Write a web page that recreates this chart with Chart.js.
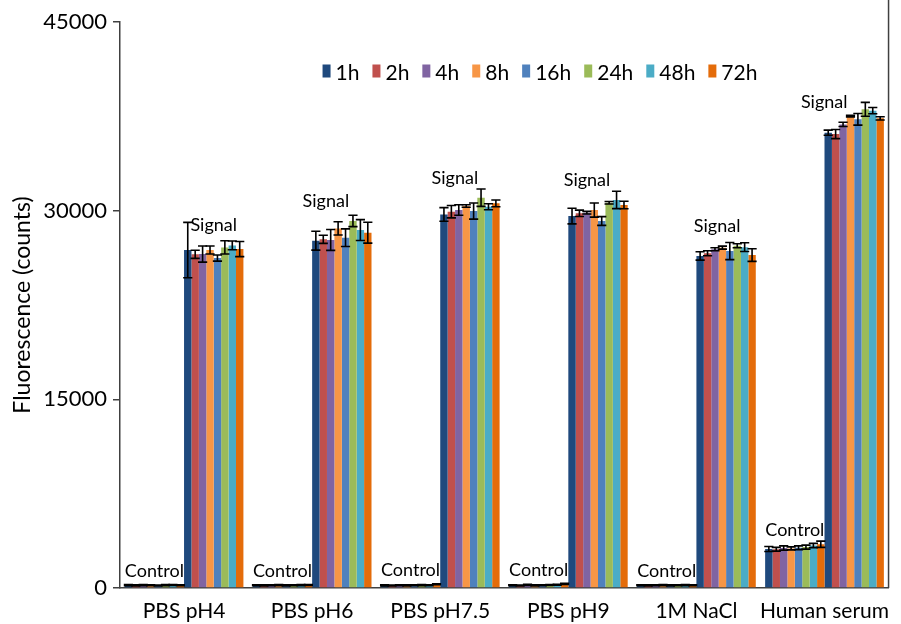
<!DOCTYPE html>
<html>
<head>
<meta charset="utf-8">
<script src="https://cdn.jsdelivr.net/npm/chart.js@4.4.0/dist/chart.umd.min.js"></script>
<style>
  html, body { margin: 0; padding: 0; background: #fff; }
  #wrap { width: 901px; height: 624px; }
</style>
</head>
<body>
<div id="wrap"><canvas id="c" width="901" height="624"></canvas></div>
<script>
// Conditions on the x axis and incubation times (one colour each)
const conditions = ['PBS pH4', 'PBS pH6', 'PBS pH7.5', 'PBS pH9', '1M NaCl', 'Human serum'];
const timepoints = ['1h', '2h', '4h', '8h', '16h', '24h', '48h', '72h'];
const yTicks = [0, 15000, 30000, 45000];

// Control (no target) fluorescence per condition, one value per time point
const ctrlPH4  = [230, 210, 230, 220, 200, 230, 240, 220];
const ctrlPH6  = [220, 210, 220, 230, 210, 220, 230, 240];
const ctrlPH75 = [210, 200, 220, 210, 220, 230, 220, 300];
const ctrlPH9  = [220, 200, 250, 210, 220, 240, 260, 330];
const ctrlNaCl = [220, 210, 220, 230, 210, 220, 230, 220];
const ctrlSerum = [3100, 3080, 3180, 3150, 3200, 3250, 3380, 3480];
const ctrlErrPH4  = [40, 40, 40, 40, 40, 40, 40, 40];
const ctrlErrPH6  = [40, 40, 40, 40, 40, 40, 40, 40];
const ctrlErrPH75 = [40, 40, 40, 40, 40, 40, 40, 40];
const ctrlErrPH9  = [40, 40, 40, 40, 40, 40, 40, 40];
const ctrlErrNaCl = [40, 40, 40, 40, 40, 40, 40, 40];
const ctrlErrSerum = [200, 150, 170, 120, 150, 160, 170, 250];

// Signal fluorescence per condition, one value per time point
const sigPH4  = [26870, 26530, 26550, 26870, 26230, 27080, 27240, 26950];
const sigPH6  = [27610, 27720, 27670, 28590, 27850, 29180, 28460, 28250];
const sigPH75 = [29700, 29920, 30050, 30370, 29970, 31030, 30310, 30580];
const sigPH9  = [29570, 29790, 29840, 30050, 29180, 30630, 30850, 30450];
const sigNaCl = [26400, 26610, 26930, 27060, 26790, 27210, 27100, 26470];
const sigSerum = [36200, 36090, 36860, 37520, 37260, 38060, 37950, 37340];
const sigErrPH4  = [2200, 320, 640, 320, 240, 530, 350, 600];
const sigErrPH6  = [750, 320, 830, 530, 700, 450, 830, 830];
const sigErrPH75 = [540, 490, 420, 100, 640, 690, 240, 270];
const sigErrPH9  = [620, 250, 100, 560, 350, 100, 690, 300];
const sigErrNaCl = [330, 200, 120, 120, 680, 160, 350, 500];
const sigErrSerum = [200, 360, 170, 60, 460, 550, 250, 130];

const colors = ['#1F497D', '#C0504D', '#8064A2', '#F79646', '#4F81BD', '#9BBB59', '#4BACC6', '#E46C0A'];

const ctrlRows = [ctrlPH4, ctrlPH6, ctrlPH75, ctrlPH9, ctrlNaCl, ctrlSerum];
const ctrlErrRows = [ctrlErrPH4, ctrlErrPH6, ctrlErrPH75, ctrlErrPH9, ctrlErrNaCl, ctrlErrSerum];
const sigRows = [sigPH4, sigPH6, sigPH75, sigPH9, sigNaCl, sigSerum];
const sigErrRows = [sigErrPH4, sigErrPH6, sigErrPH75, sigErrPH9, sigErrNaCl, sigErrSerum];

const FONT = 'Lato, "Open Sans", sans-serif';

// One dataset per (group, time point): controls first, then signals
const datasets = [];
[['Control', ctrlRows, ctrlErrRows], ['Signal', sigRows, sigErrRows]].forEach(([grp, rows, errRows]) => {
  timepoints.forEach((tp, t) => {
    datasets.push({
      label: tp,
      group: grp,
      data: rows.map(r => r[t]),
      errors: errRows.map(r => r[t]),
      backgroundColor: colors[t],
      borderWidth: 0,
      categoryPercentage: 0.927,
      barPercentage: 1.0
    });
  });
});

// Error bars drawn from each dataset's errors through the y scale
const errorBars = {
  id: 'errorBars',
  afterDatasetsDraw(chart) {
    const ctx = chart.ctx, y = chart.scales.y;
    ctx.save();
    ctx.strokeStyle = '#000';
    ctx.lineWidth = 1.6;
    chart.data.datasets.forEach((ds, di) => {
      const meta = chart.getDatasetMeta(di);
      meta.data.forEach((bar, i) => {
        const v = ds.data[i], e = ds.errors[i];
        const yt = y.getPixelForValue(v + e), yb = y.getPixelForValue(v - e);
        const hw = bar.width * 0.62;
        ctx.beginPath();
        ctx.moveTo(bar.x, yt); ctx.lineTo(bar.x, yb);
        ctx.moveTo(bar.x - hw, yt); ctx.lineTo(bar.x + hw, yt);
        ctx.moveTo(bar.x - hw, yb); ctx.lineTo(bar.x + hw, yb);
        ctx.stroke();
      });
    });
    ctx.restore();
  }
};

// "Control" / "Signal" captions above each bar group
const groupLabels = {
  id: 'groupLabels',
  afterDatasetsDraw(chart, args, opts) {
    const ctx = chart.ctx;
    ctx.save();
    ctx.font = '18px ' + FONT;
    ctx.fillStyle = '#000';
    ctx.textAlign = 'center';
    ctx.textBaseline = 'alphabetic';
    const n = timepoints.length;
    conditions.forEach((c, ci) => {
      ['Control', 'Signal'].forEach((grp, gi) => {
        const first = chart.getDatasetMeta(gi * n).data[ci];
        const last = chart.getDatasetMeta(gi * n + n - 1).data[ci];
        let top = Infinity;
        for (let t = 0; t < n; t++) {
          const bar = chart.getDatasetMeta(gi * n + t).data[ci];
          top = Math.min(top, bar.y);
        }
        const nudge = (opts.nudge[grp] || [])[ci] || [0, 0];
        const cx = (first.x + last.x) / 2 + nudge[0];
        ctx.fillText(grp, cx, top - opts.gap[grp] + nudge[1]);
      });
    });
    ctx.restore();
  }
};

// Legend row inside the plot area, plus the right-hand frame line
const insideLegend = {
  id: 'insideLegend',
  afterDraw(chart, args, opts) {
    const ctx = chart.ctx, area = chart.chartArea;
    ctx.save();
    // frame line on the right
    ctx.strokeStyle = '#404040';
    ctx.lineWidth = 1.5;
    ctx.beginPath();
    ctx.moveTo(area.right, 0);
    ctx.lineTo(area.right, area.bottom);
    ctx.stroke();

    ctx.font = opts.fontSize + 'px ' + FONT;
    ctx.textBaseline = 'middle';
    ctx.textAlign = 'left';
    const items = timepoints.map((tp, t) => ({ text: tp, color: colors[t], w: ctx.measureText(tp).width }));
    const itemW = it => opts.box[0] + opts.textGap + it.w;
    const total = items.reduce((s, it) => s + itemW(it), 0) + opts.spacing * (items.length - 1);
    let x = opts.centerX - total / 2;
    const cy = opts.centerY;
    items.forEach(it => {
      ctx.fillStyle = it.color;
      ctx.fillRect(x, cy - opts.box[1] / 2 - 1, opts.box[0], opts.box[1]);
      ctx.fillStyle = '#000';
      ctx.fillText(it.text, x + opts.box[0] + opts.textGap, cy + 1);
      x += itemW(it) + opts.spacing;
    });
    ctx.restore();
  }
};

new Chart(document.getElementById('c'), {
  type: 'bar',
  data: { labels: conditions, datasets },
  plugins: [errorBars, groupLabels, insideLegend],
  options: {
    responsive: false,
    animation: false,
    layout: { padding: { left: 0, right: 11, top: 22, bottom: 0 } },
    plugins: {
      legend: { display: false },
      tooltip: { enabled: false },
      groupLabels: {
        gap: { Control: 8, Signal: 14 },
        nudge: { Signal: [[0, 0], [-16, 0], [-15, 0], [-11, 0], [-9, 0], [-30, 13]] }
      },
      insideLegend: { fontSize: 21, box: [8, 13], textGap: 5, spacing: 13, centerX: 540, centerY: 72 }
    },
    scales: {
      x: {
        type: 'category',
        offset: true,
        grid: { display: false, drawTicks: false },
        border: { display: true, color: '#404040', width: 1.5 },
        ticks: { color: '#000', font: { family: FONT, size: 21 }, padding: 11, maxRotation: 0, autoSkip: false },
        afterFit(scale) { scale.height = 36; }
      },
      y: {
        min: 0,
        max: 45000,
        afterBuildTicks(scale) { scale.ticks = yTicks.map(v => ({ value: v })); },
        grid: { drawOnChartArea: false, drawTicks: true, tickLength: 7, color: '#404040', lineWidth: 1.5 },
        border: { display: true, color: '#404040', width: 1.5 },
        ticks: {
          color: '#000',
          font: { family: FONT, size: 22 },
          padding: 6,
          callback: v => String(v)
        },
        title: {
          display: true,
          text: 'Fluorescence (counts)',
          color: '#000',
          font: { family: FONT, size: 23 },
          padding: { top: 9, bottom: 0 }
        },
        afterFit(scale) { scale.width = 120; }
      }
    }
  }
});
</script>
</body>
</html>
